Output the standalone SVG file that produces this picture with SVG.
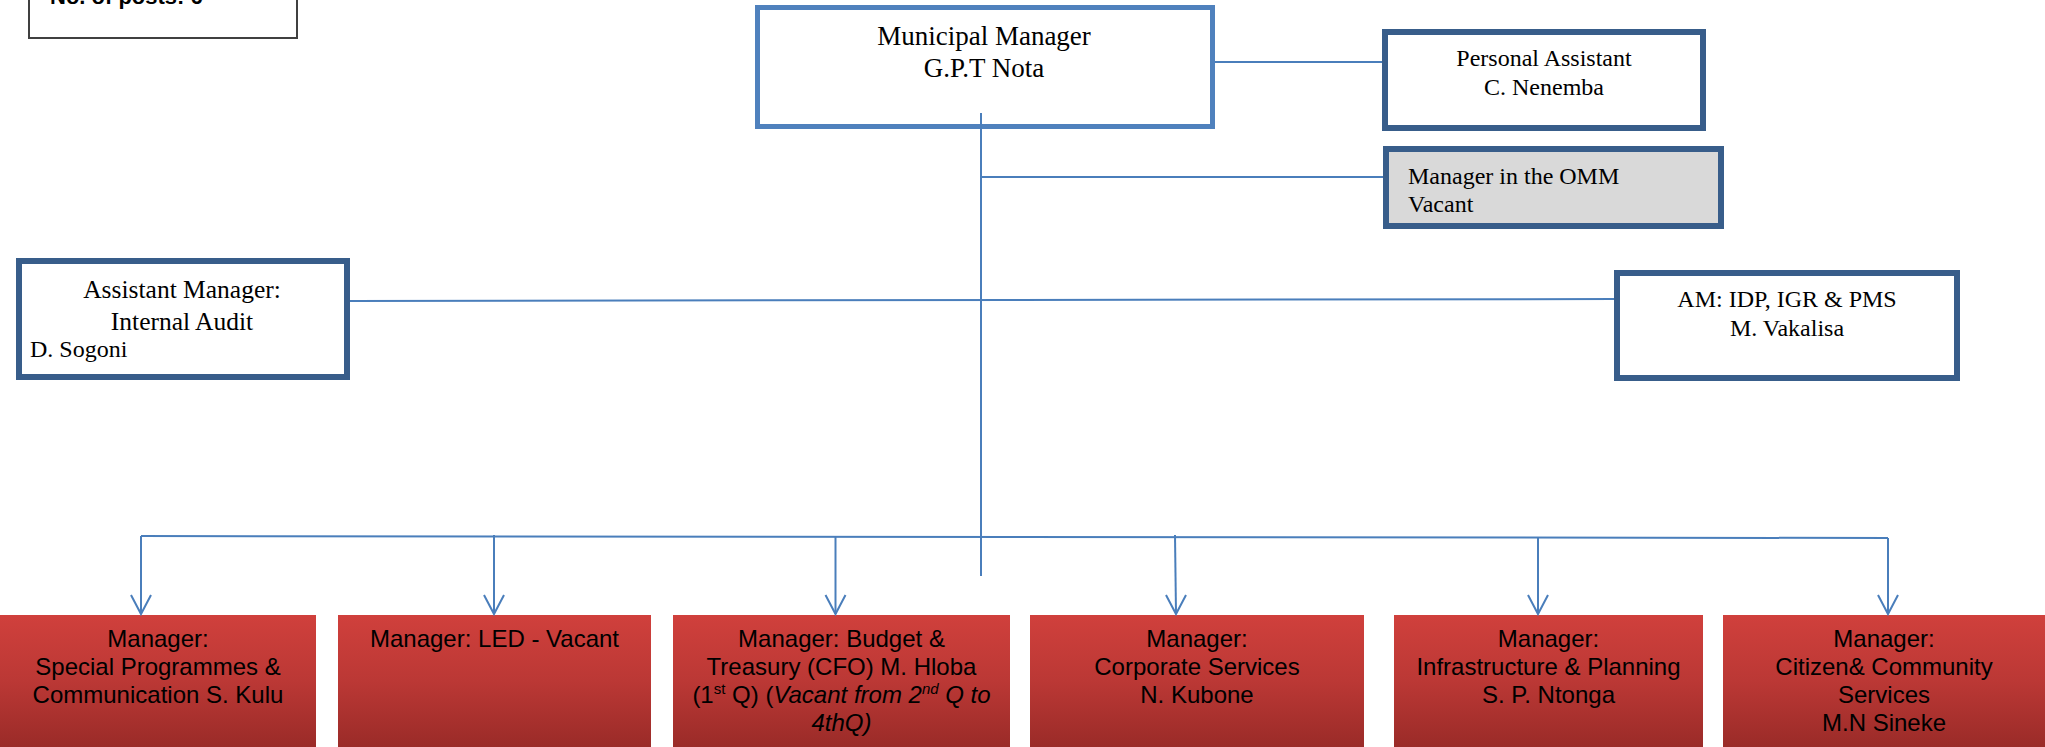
<svg xmlns="http://www.w3.org/2000/svg" width="2045" height="747" viewBox="0 0 2045 747">
  <style>
    .serif { font-family: "Liberation Serif", "Times New Roman", serif; fill: #000; }
    .sans { font-family: "Liberation Sans", Arial, sans-serif; fill: #000; }
    .box-dark { fill: #fff; stroke: #385D8A; stroke-width: 6; }
    .box-light { fill: #fff; stroke: #4F81BD; stroke-width: 5; }
    .box-grey { fill: #D9D9D9; stroke: #385D8A; stroke-width: 6; }
    .box-red { fill: url(#redGrad); stroke: none; }
    .conn { stroke: #4A7EBB; stroke-width: 2; fill: none; }
    .head { stroke: #4A7EBB; stroke-width: 2; fill: none; stroke-linejoin: miter; }
    .red-text { font-family: "Liberation Sans", Arial, sans-serif; font-size: 24px; fill: #000; text-anchor: middle; }
  </style>
  <defs>
    <linearGradient id="redGrad" x1="0" y1="0" x2="0" y2="1">
      <stop offset="0" stop-color="#D0403C"/>
      <stop offset="0.5" stop-color="#BB3835"/>
      <stop offset="1" stop-color="#9A2B28"/>
    </linearGradient>
  </defs>

  <rect width="2045" height="747" fill="#fff"/>

  <!-- post count note -->
  <g id="note">
    <rect x="29" y="-20" width="268" height="58" fill="#fff" stroke="#404040" stroke-width="2"/>
    <text class="sans" x="50" y="4" font-size="22" font-weight="bold">No. of posts: 6</text>
  </g>

  <g id="municipal-manager">
    <rect class="box-light" x="757.5" y="7.5" width="455" height="119"/>
    <text class="serif" x="984" y="45" font-size="27" text-anchor="middle">Municipal Manager</text>
    <text class="serif" x="984" y="77" font-size="27" text-anchor="middle">G.P.T Nota</text>
  </g>

  <g id="personal-assistant">
    <rect class="box-dark" x="1385" y="32" width="318" height="96"/>
    <text class="serif" x="1544" y="66" font-size="24" text-anchor="middle">Personal Assistant</text>
    <text class="serif" x="1544" y="95" font-size="24" text-anchor="middle">C. Nenemba</text>
  </g>

  <g id="manager-omm">
    <rect class="box-grey" x="1386" y="149" width="335" height="77"/>
    <text class="serif" x="1408" y="184" font-size="24">Manager in the OMM</text>
    <text class="serif" x="1408" y="212" font-size="24">Vacant</text>
  </g>

  <g id="internal-audit">
    <rect class="box-dark" x="19" y="261" width="328" height="116"/>
    <text class="serif" x="182" y="298" font-size="25.5" text-anchor="middle">Assistant Manager:</text>
    <text class="serif" x="182" y="330" font-size="25.5" text-anchor="middle">Internal Audit</text>
    <text class="serif" x="30" y="357" font-size="24">D. Sogoni</text>
  </g>

  <g id="idp-igr-pms">
    <rect class="box-dark" x="1617" y="273" width="340" height="105"/>
    <text class="serif" x="1787" y="307" font-size="24" text-anchor="middle">AM: IDP, IGR &amp; PMS</text>
    <text class="serif" x="1787" y="336" font-size="24" text-anchor="middle">M. Vakalisa</text>
  </g>

  <g id="special-programmes">
    <rect class="box-red" x="0" y="615" width="316" height="132"/>
    <text class="red-text" x="158" y="647">Manager:</text>
    <text class="red-text" x="158" y="675">Special Programmes &amp;</text>
    <text class="red-text" x="158" y="703">Communication S. Kulu</text>
  </g>

  <g id="led">
    <rect class="box-red" x="338" y="615" width="313" height="132"/>
    <text class="red-text" x="494.5" y="647">Manager: LED - Vacant</text>
  </g>

  <g id="budget-treasury">
    <rect class="box-red" x="673" y="615" width="337" height="132"/>
    <text class="red-text" x="841.5" y="647">Manager: Budget &amp;</text>
    <text class="red-text" x="841.5" y="675">Treasury (CFO) M. Hloba</text>
    <text class="red-text" x="841.5" y="703">(1<tspan font-size="15" dy="-9">st</tspan><tspan dy="9"> Q) (</tspan><tspan font-style="italic">Vacant from 2</tspan><tspan font-style="italic" font-size="15" dy="-9">nd</tspan><tspan font-style="italic" dy="9"> Q to</tspan></text>
    <text class="red-text" x="841.5" y="731" font-style="italic">4thQ)</text>
  </g>

  <g id="corporate-services">
    <rect class="box-red" x="1030" y="615" width="334" height="132"/>
    <text class="red-text" x="1197" y="647">Manager:</text>
    <text class="red-text" x="1197" y="675">Corporate Services</text>
    <text class="red-text" x="1197" y="703">N. Kubone</text>
  </g>

  <g id="infrastructure-planning">
    <rect class="box-red" x="1394" y="615" width="309" height="132"/>
    <text class="red-text" x="1548.5" y="647">Manager:</text>
    <text class="red-text" x="1548.5" y="675">Infrastructure &amp; Planning</text>
    <text class="red-text" x="1548.5" y="703">S. P. Ntonga</text>
  </g>

  <g id="citizen-community">
    <rect class="box-red" x="1723" y="615" width="322" height="132"/>
    <text class="red-text" x="1884" y="647">Manager:</text>
    <text class="red-text" x="1884" y="675">Citizen&amp; Community</text>
    <text class="red-text" x="1884" y="703">Services</text>
    <text class="red-text" x="1884" y="731">M.N Sineke</text>
  </g>

  <!-- connectors, drawn last so the trunk shows inside the top box -->
  <g id="connectors">
    <line class="conn" x1="1215" y1="62" x2="1382" y2="62"/>
    <line class="conn" x1="981" y1="113" x2="981" y2="576"/>
    <line class="conn" x1="981" y1="177" x2="1383" y2="177"/>
    <line class="conn" x1="350" y1="301" x2="1614" y2="299"/>
    <line class="conn" x1="141" y1="536" x2="1888" y2="538"/>
    <line class="conn" x1="141" y1="536" x2="141" y2="614"/>
    <line class="conn" x1="494" y1="535" x2="494" y2="614"/>
    <line class="conn" x1="835.5" y1="536" x2="835.5" y2="614"/>
    <line class="conn" x1="1175" y1="535" x2="1176" y2="614"/>
    <line class="conn" x1="1538" y1="537" x2="1538" y2="614"/>
    <line class="conn" x1="1888" y1="538" x2="1888" y2="614"/>
    <polyline class="head" points="131,595 141,614 151,595"/>
    <polyline class="head" points="484,595 494,614 504,595"/>
    <polyline class="head" points="825.5,595 835.5,614 845.5,595"/>
    <polyline class="head" points="1166,595 1176,614 1186,595"/>
    <polyline class="head" points="1528,595 1538,614 1548,595"/>
    <polyline class="head" points="1878,595 1888,614 1898,595"/>
  </g>
</svg>
